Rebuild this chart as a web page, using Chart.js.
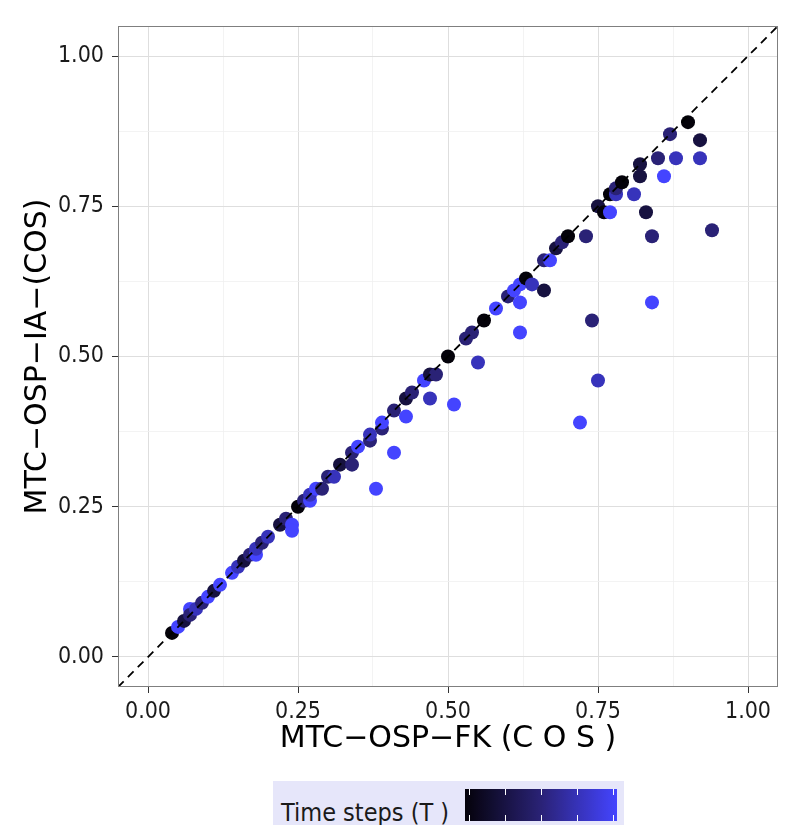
<!DOCTYPE html>
<html>
<head>
<meta charset="utf-8">
<script src="https://cdn.jsdelivr.net/npm/chart.js@4.4.0/dist/chart.umd.min.js"></script>
<style>
    html, body { margin: 0; padding: 0; background: #ffffff; overflow: hidden; }
    #wrap { position: relative; width: 800px; height: 825px; }
    #legend {
        position: absolute; left: 273px; top: 781px; width: 351px; height: 60px;
        background: #e6e6fa;
    }
    #legend-title {
        position: absolute; left: 8px; top: 17px;
        font: 25px "DejaVu Sans Condensed", "DejaVu Sans", sans-serif;
        color: #1a1a1a; white-space: nowrap;
    }
    #legend-bar {
        position: absolute; left: 192px; top: 8px; width: 152px; height: 32px;
    }
</style>
</head>
<body>
<div id="wrap">
    <canvas id="cosChart" width="800" height="825"></canvas>
    <div id="legend">
        <div id="legend-title">Time steps (T )</div>
        <canvas id="legend-bar" width="152" height="32"></canvas>
    </div>
</div>

<script>
// ================= DATA =================
// x: MTC-OSP-FK (COS), y: MTC-OSP-IA (COS), colour: time step level (1 = earliest .. 5 = latest)
const costFK = [
    0.04, 0.05, 0.06, 0.07, 0.07, 0.08, 0.09, 0.10, 0.11, 0.12,
    0.14, 0.15, 0.16, 0.17, 0.18, 0.18, 0.19, 0.20, 0.22, 0.23,
    0.24, 0.24, 0.25, 0.26, 0.27, 0.27, 0.28, 0.29, 0.30, 0.31,
    0.32, 0.34, 0.34, 0.35, 0.37, 0.37, 0.38, 0.39, 0.39, 0.41,
    0.41, 0.43, 0.43, 0.44, 0.46, 0.47, 0.48, 0.47, 0.50, 0.51,
    0.53, 0.54, 0.55, 0.56, 0.58, 0.60, 0.61, 0.62, 0.62, 0.62,
    0.63, 0.64, 0.66, 0.66, 0.67, 0.68, 0.69, 0.70, 0.72, 0.73,
    0.74, 0.75, 0.75, 0.76, 0.77, 0.77, 0.78, 0.78, 0.79, 0.81,
    0.82, 0.82, 0.83, 0.84, 0.84, 0.85, 0.86, 0.87, 0.88, 0.90,
    0.92, 0.92, 0.94
];
const costIA = [
    0.04, 0.05, 0.06, 0.08, 0.07, 0.08, 0.09, 0.10, 0.11, 0.12,
    0.14, 0.15, 0.16, 0.17, 0.17, 0.18, 0.19, 0.20, 0.22, 0.23,
    0.22, 0.21, 0.25, 0.26, 0.26, 0.27, 0.28, 0.28, 0.30, 0.30,
    0.32, 0.32, 0.34, 0.35, 0.36, 0.37, 0.28, 0.38, 0.39, 0.41,
    0.34, 0.43, 0.40, 0.44, 0.46, 0.47, 0.47, 0.43, 0.50, 0.42,
    0.53, 0.54, 0.49, 0.56, 0.58, 0.60, 0.61, 0.62, 0.59, 0.54,
    0.63, 0.62, 0.61, 0.66, 0.66, 0.68, 0.69, 0.70, 0.39, 0.70,
    0.56, 0.46, 0.75, 0.74, 0.74, 0.77, 0.77, 0.78, 0.79, 0.77,
    0.80, 0.82, 0.74, 0.70, 0.59, 0.83, 0.80, 0.87, 0.83, 0.89,
    0.86, 0.83, 0.71
];
const timeStep = [
    1, 5, 2, 5, 3, 4, 3, 5, 2, 5,
    5, 4, 2, 3, 5, 4, 3, 4, 2, 3,
    5, 5, 1, 3, 5, 4, 5, 3, 3, 4,
    2, 3, 3, 5, 3, 4, 5, 3, 5, 3,
    5, 2, 5, 3, 5, 2, 3, 4, 1, 5,
    3, 3, 4, 1, 5, 3, 5, 5, 5, 5,
    1, 4, 2, 3, 5, 2, 3, 1, 5, 3,
    3, 4, 2, 1, 5, 1, 4, 3, 1, 4,
    2, 2, 2, 3, 5, 3, 5, 3, 4, 1,
    2, 4, 3
];

// identity reference line (y = x)
const refLine = [-0.05, 1.05];

// axis ticks
const tickValues = [0, 0.25, 0.5, 0.75, 1];
const minorValues = [0.125, 0.375, 0.625, 0.875];
const axisMin = -0.05, axisMax = 1.05;

// ================= COLOUR SCALE =================
const colourStops = [
    [0.0, [4, 2, 10]],
    [0.5, [42, 34, 118]],
    [1.0, [68, 68, 255]]
];

function colourAt(t) {
    for (let i = 1; i < colourStops.length; i++) {
        const [t1, c1] = colourStops[i];
        const [t0, c0] = colourStops[i - 1];
        if (t <= t1) {
            const f = (t - t0) / (t1 - t0);
            const c = c0.map((v, k) => Math.round(v + (c1[k] - v) * f));
            return `rgb(${c[0]}, ${c[1]}, ${c[2]})`;
        }
    }
    const last = colourStops[colourStops.length - 1][1];
    return `rgb(${last[0]}, ${last[1]}, ${last[2]})`;
}

const stepMin = Math.min(...timeStep), stepMax = Math.max(...timeStep);
const pointColours = timeStep.map(s => colourAt((s - stepMin) / (stepMax - stepMin)));

// ================= CHART =================
const fontFamily = '"DejaVu Sans Condensed", "DejaVu Sans", sans-serif';
const allTicks = tickValues.concat(minorValues).sort((a, b) => a - b);
const isMajor = v => tickValues.includes(v);

// panel border like ggplot's theme_bw
const panelBorder = {
    id: 'panelBorder',
    afterDraw(chart) {
        const { ctx, chartArea: a } = chart;
        ctx.save();
        ctx.strokeStyle = '#7f7f7f';
        ctx.lineWidth = 1;
        ctx.strokeRect(a.left + 0.5, a.top + 0.5, a.right - a.left - 1, a.bottom - a.top - 1);
        ctx.restore();
    }
};

function axisOptions(titleText, isX) {
    return {
        type: 'linear',
        min: axisMin,
        max: axisMax,
        afterBuildTicks(scale) {
            scale.ticks = allTicks.map(v => ({ value: v }));
        },
        afterFit(scale) {
            if (isX) scale.height = 138;
            else scale.width = 118;
        },
        border: { display: false },
        grid: {
            color: ctx => isMajor(ctx.tick.value) ? '#dedede' : '#f0f0f0',
            lineWidth: ctx => isMajor(ctx.tick.value) ? 1 : 0.8,
            tickColor: ctx => isMajor(ctx.tick.value) ? '#333333' : 'rgba(0,0,0,0)',
            tickLength: 6,
            drawTicks: true
        },
        ticks: {
            autoSkip: false,
            maxRotation: 0,
            padding: isX ? 5 : 8,
            color: '#1a1a1a',
            font: { family: fontFamily, size: 23 },
            callback: v => isMajor(v) ? v.toFixed(2) : ''
        },
        title: {
            display: true,
            text: titleText,
            color: '#000000',
            font: { family: '"DejaVu Sans", sans-serif', size: 30 },
            padding: isX ? { top: 0, bottom: 68 } : { top: 20, bottom: 0 }
        }
    };
}

const ctx = document.getElementById('cosChart').getContext('2d');
const cosChart = new Chart(ctx, {
    type: 'scatter',
    data: {
        datasets: [
            {
                label: 'y = x',
                type: 'line',
                data: refLine.map(v => ({ x: v, y: v })),
                borderColor: '#000000',
                borderWidth: 1.8,
                borderDash: [8, 6],
                pointRadius: 0,
                fill: false,
                order: 1
            },
            {
                label: 'Time steps (T)',
                data: costFK.map((x, i) => ({ x: x, y: costIA[i] })),
                backgroundColor: pointColours,
                borderWidth: 0,
                pointRadius: 7,
                pointHoverRadius: 7,
                order: 2
            }
        ]
    },
    options: {
        responsive: false,
        animation: false,
        layout: { padding: { top: 26, right: 22, bottom: 0, left: 0 } },
        plugins: {
            legend: { display: false },
            tooltip: { enabled: false }
        },
        scales: {
            x: axisOptions('MTC\u2212OSP\u2212FK (C O S )', true),
            y: axisOptions('MTC\u2212OSP\u2212IA\u2212(COS)', false)
        }
    },
    plugins: [panelBorder]
});

// ================= LEGEND COLOURBAR =================
(function drawColourBar() {
    const bar = document.getElementById('legend-bar');
    const g = bar.getContext('2d');
    const w = bar.width, h = bar.height;
    const grad = g.createLinearGradient(0, 0, w, 0);
    for (let i = 0; i <= 20; i++) grad.addColorStop(i / 20, colourAt(i / 20));
    g.fillStyle = grad;
    g.fillRect(0, 0, w, h);
    g.strokeStyle = '#ffffff';
    g.lineWidth = 1;
    for (let s = stepMin; s <= stepMax; s++) {
        const x = Math.round(4 + (w - 8) * (s - stepMin) / (stepMax - stepMin)) + 0.5;
        g.beginPath();
        g.moveTo(x, 0); g.lineTo(x, 6);
        g.moveTo(x, h - 6); g.lineTo(x, h);
        g.stroke();
    }
})();
</script>
</body>
</html>
